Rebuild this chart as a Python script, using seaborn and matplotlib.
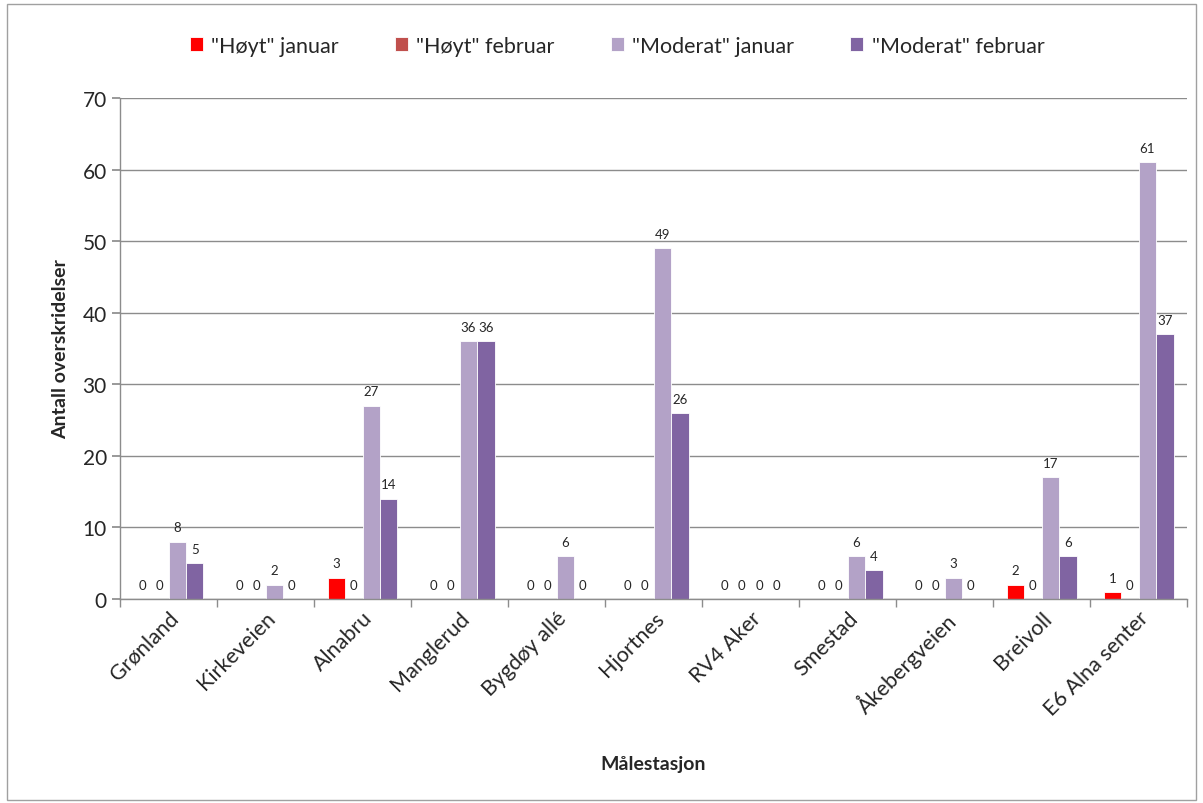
import matplotlib
matplotlib.use('Agg')
import matplotlib.pyplot as plt
from matplotlib.patches import Rectangle
import numpy as np
import pandas as pd
import seaborn as sns

stations = ['Grønland', 'Kirkeveien', 'Alnabru', 'Manglerud', 'Bygdøy allé', 'Hjortnes',
            'RV4 Aker', 'Smestad', 'Åkebergveien', 'Breivoll', 'E6 Alna senter']
hoyt_jan = [0, 0, 3, 0, 0, 0, 0, 0, 0, 2, 1]
hoyt_feb = [0, 0, 0, 0, 0, 0, 0, 0, 0, 0, 0]
moderat_jan = [8, 2, 27, 36, 6, 49, 0, 6, 3, 17, 61]
moderat_feb = [5, 0, 14, 36, 0, 26, 0, 4, 0, 6, 37]

series_names = ['"Høyt" januar', '"Høyt" februar', '"Moderat" januar', '"Moderat" februar']
colors = ['#FF0000', '#C0504D', '#B3A2C7', '#8064A2']


def main():
    rows = []
    for name, vals in zip(series_names, [hoyt_jan, hoyt_feb, moderat_jan, moderat_feb]):
        for st, v in zip(stations, vals):
            rows.append({'Målestasjon': st, 'Serie': name, 'Antall': v})
    df = pd.DataFrame(rows)

    sns.set_theme(style="white")
    plt.rcParams['font.family'] = ['Lato', 'DejaVu Sans']

    fig = plt.figure(figsize=(12.03, 8.04), dpi=100)
    ax = fig.add_axes([0.0998, 0.2537, 0.887, 0.6232])

    sns.barplot(data=df, x='Målestasjon', y='Antall', hue='Serie', order=stations,
                hue_order=series_names, palette=colors, width=0.72, saturation=1,
                edgecolor='white', linewidth=0.6, ax=ax)

    for cont in ax.containers:
        ax.bar_label(cont, fmt='%d', padding=6, fontsize=9.5)

    ax.set_ylim(0, 70)
    ax.set_xlim(-0.5, len(stations) - 0.5)
    ax.set_yticks(range(0, 71, 10))
    ax.yaxis.grid(True, color='#8c8c8c', linewidth=1)
    ax.set_axisbelow(True)

    ax.set_xticks(np.arange(-0.5, len(stations), 1.0), minor=True)
    ax.tick_params(axis='x', which='major', length=0, pad=6, labelsize=15.5)
    ax.tick_params(axis='x', which='minor', length=6, color='#8c8c8c', bottom=True)
    ax.tick_params(axis='y', length=6, color='#8c8c8c', labelsize=15, left=True)
    plt.setp(ax.get_xticklabels(), rotation=45, ha='right', rotation_mode='anchor')

    for side in ['top', 'right']:
        ax.spines[side].set_visible(False)
    for side in ['left', 'bottom']:
        ax.spines[side].set_color('#8c8c8c')
        ax.spines[side].set_linewidth(1)

    ax.set_xlabel('Målestasjon', fontsize=14, fontweight='bold', labelpad=26)
    ax.set_ylabel('Antall overskridelser', fontsize=14, fontweight='bold', labelpad=10)

    handles, labels = ax.get_legend_handles_labels()
    ax.legend_.remove()
    fig.legend(handles, labels, loc='center', bbox_to_anchor=(0.513, 0.942), ncol=4,
               frameon=False, fontsize=15.5, handlelength=0.6, handleheight=0.6,
               handletextpad=0.4, columnspacing=2.6)

    fig.patches.append(Rectangle((0.006, 0.004), 0.988, 0.99, transform=fig.transFigure,
                                 fill=False, edgecolor='#a0a0a0', linewidth=1))

    fig.savefig('out.png', dpi=100)


if __name__ == '__main__':
    main()
